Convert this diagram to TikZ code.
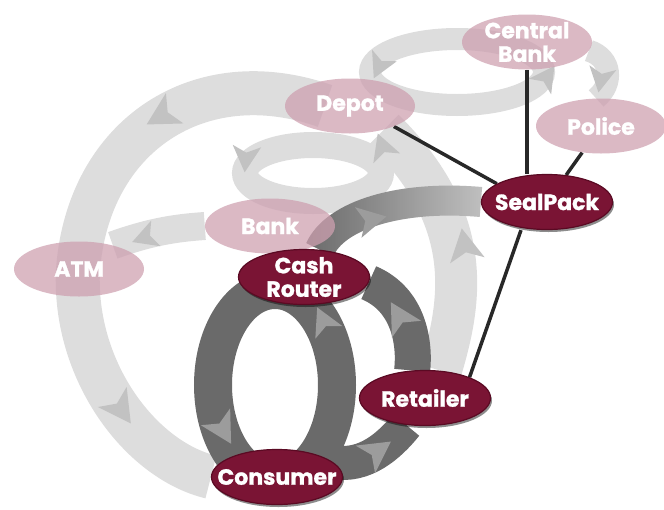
\documentclass[tikz,border=0pt]{standalone}
\usepackage{fontspec}
\setmainfont{Poppins}[BoldFeatures={FakeBold=1.2}]
\usetikzlibrary{shapes.geometric,shadows,fadings}
\definecolor{lbandc}{RGB}{221,221,221}
\definecolor{lchevc}{RGB}{194,194,194}
\definecolor{dbandc}{RGB}{106,106,106}
\definecolor{dchevc}{RGB}{156,156,156}
\definecolor{lnodec}{RGB}{206,160,176}
\definecolor{dnodec}{RGB}{122,20,52}
\definecolor{dnodeedge}{RGB}{90,10,35}
\definecolor{clinec}{RGB}{40,40,40}
\tikzfading[name=fadeR, left color=transparent!0, right color=transparent!80]
\pgfdeclarelayer{bg}
\pgfsetlayers{bg,main}
\tikzset{
  lnode/.style={ellipse, fill=lnodec, fill opacity=0.74, minimum width=130pt, minimum height=55pt, inner sep=0pt},
  dnode/.style={ellipse, fill=dnodec, draw=dnodeedge, line width=1.2pt, minimum width=131pt, minimum height=55pt, inner sep=0pt,
     drop shadow={shadow xshift=1.5pt, shadow yshift=-2.5pt, fill=black, opacity=0.45}},
  ntext/.style={text=white, font=\bfseries\fontsize{22}{23.5}\selectfont, align=center, inner sep=0pt, text opacity=1},
  lband/.style={draw=lbandc, line cap=butt},
  dband/.style={draw=dbandc, line cap=butt},
  cline/.style={draw=clinec, line width=3.5pt},
  pics/chevron/.style={code={\fill[#1] (14,0) -- (-10,13) -- (-4,0) -- (-10,-13) -- cycle;}}
}
\begin{document}
\begin{tikzpicture}[x=1pt,y=-1pt]
\useasboundingbox (0,0) rectangle (664,509);
% nodes
\node[lnode, label={[ntext]center:{Central\\Bank}}] (cb) at (527,42) {};
\node[lnode, label={[ntext]center:Police}] (police) at (601,126) {};
\node[lnode, label={[ntext]center:Depot}] (depot) at (350,106) {};
\node[lnode, label={[ntext]center:Bank}] (bank) at (270,226) {};
\node[lnode, label={[ntext]center:ATM}] (atm) at (79,269) {};
\node[dnode, label={[ntext]center:{Cash\\Router}}] (cr) at (304,277) {};
\node[dnode, label={[ntext]center:SealPack}] (sp) at (547,202) {};
\node[dnode, label={[ntext]center:Retailer}] (ret) at (425,398) {};
\node[dnode, label={[ntext]center:Consumer}] (con) at (277,477) {};
\begin{pgfonlayer}{bg}
% light bands
\draw[lband, line width=44pt] ([xshift=-25pt]depot.center) .. controls (200,62) and (88,135) .. (78,270) .. controls (73,370) and (140,460) .. (con.west);
\draw[lband, line width=28pt] (bank.west) .. controls (175,228) and (150,232) .. (atm.35);
\draw[lband, line width=26pt] (313,173) ellipse [x radius=68, y radius=28];
\draw[lband, line width=42pt] (ret.60) .. controls (462,300) and (475,220) .. (depot.-35);
\draw[lband, line width=22pt] (457,72) ellipse [x radius=87, y radius=33];
\draw[lband, line width=22pt] (cb.-8) .. controls (612,58) and (614,84) .. (police.100);
\pic[rotate=210, scale=1.35] at (163,115) {chevron=lchevc};
\pic[rotate=-55, scale=1.35] at (120,408) {chevron=lchevc};
\pic[rotate=200, scale=1.05] at (146,237) {chevron=lchevc};
\pic[rotate=-95, scale=1.1] at (246,157) {chevron=lchevc};
\pic[rotate=110, scale=1.1] at (383,148) {chevron=lchevc};
\pic[rotate=100, scale=1.35] at (465,247) {chevron=lchevc};
\pic[rotate=245, scale=1.05] at (380,65) {chevron=lchevc};
\pic[rotate=55, scale=1.05] at (546,78) {chevron=lchevc};
\pic[rotate=-100, scale=1.05] at (601,78) {chevron=lchevc};
% connector lines
\draw[cline] (depot.-25) -- (sp.160);
\draw[cline] (cb.south) -- (cb.south |- sp.north);
\draw[cline] (sp) -- (police);
\draw[cline] ([xshift=-26pt]sp.south) -- (ret.25);
% dark bands
\draw[lband, line width=30pt] (cr.60) .. controls (335,215) and (400,195) .. (sp.west);
\draw[dband, line width=30pt, path fading=fadeR] (cr.60) .. controls (335,215) and (400,195) .. (sp.west);
\draw[dband, line width=38pt] (275,385) ellipse [x radius=62, y radius=95];
\draw[dband, line width=34pt] (con.15) .. controls (365,468) and (390,445) .. (ret.-125);
\draw[dband, line width=36pt] (ret.115) .. controls (415,345) and (410,300) .. (cr.-5);
\pic[rotate=12, scale=1.2] at (370,220) {chevron=dchevc};
\pic[rotate=-60, scale=1.3] at (222,428) {chevron=dchevc};
\pic[rotate=115, scale=1.15] at (324,322) {chevron=dchevc};
\pic[rotate=35, scale=1.3] at (376,452) {chevron=dchevc};
\pic[rotate=120, scale=1.3] at (400,318) {chevron=dchevc};
\end{pgfonlayer}
\end{tikzpicture}
\end{document}
